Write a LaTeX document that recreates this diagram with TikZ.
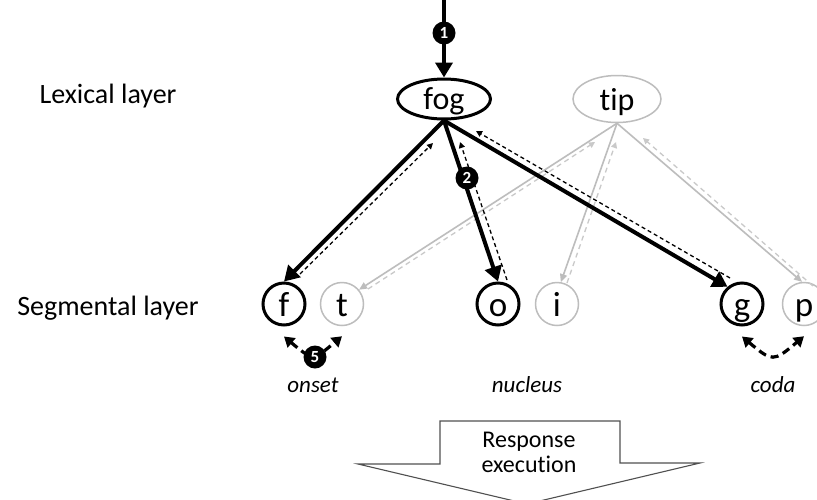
\documentclass[tikz,border=0pt]{standalone}
\usepackage{fontspec}
\setmainfont{Carlito}[Ligatures={NoCommon}]
\usetikzlibrary{arrows.meta,shapes.geometric,calc}
\definecolor{inkgrey}{HTML}{BDBDBD}
\definecolor{palegrey}{HTML}{C9C9C9}
\definecolor{boxline}{HTML}{505050}
\begin{document}
\begin{tikzpicture}[x=1pt,y=1pt,
  lex/.style={ellipse, draw, line width=3pt, minimum width=93pt, minimum height=40pt,
    inner sep=0pt, text height=21pt, text depth=0pt, font=\fontsize{32}{32}\selectfont},
  lexoff/.style={lex, draw=inkgrey, line width=1.5pt, minimum width=88pt, minimum height=47pt, text height=22pt},
  seg/.style={circle, draw, line width=3pt, minimum size=42pt, inner sep=0pt,
    text height=24pt, text depth=0pt, font=\fontsize{35}{35}\selectfont},
  segoff/.style={seg, draw=inkgrey, line width=1.5pt, minimum size=43pt},
  badge/.style={circle, fill=black, minimum size=23pt, inner sep=0pt, text=white,
    font=\fontsize{17}{17}\selectfont\bfseries},
  layer/.style={anchor=base, font=\fontsize{28}{28}\selectfont},
  role/.style={anchor=base, font=\fontsize{23}{23}\selectfont\itshape},
  caption/.style={anchor=base, font=\fontsize{24}{24}\selectfont},
  fwd/.style={line width=4pt, -{Triangle[length=15pt,width=17pt]}},
  ret/.style={line width=1.3pt, dash pattern=on 4pt off 3pt, -{Triangle[length=6pt,width=6pt]}},
  fwdoff/.style={draw=inkgrey, line width=1.6pt, -{Triangle[length=8pt,width=7pt]}},
  retoff/.style={draw=palegrey, line width=1.3pt, dash pattern=on 5pt off 4pt, -{Triangle[length=6pt,width=6pt]}},
  exchange/.style={line width=3.2pt, dash pattern=on 8pt off 5pt,
    {Triangle[length=10pt,width=12pt]}-{Triangle[length=10pt,width=12pt]}}
]
\fill[white] (0,0) rectangle (817,-499);
\useasboundingbox (0,0) rectangle (817,-499);

% layer labels
\node[layer] (lexlabel) at (108,-103) {Lexical layer};
\node[layer] (seglabel) at (108,-315) {Segmental layer};

% lexical nodes
\node[lex] (fog) at (444,-99) {fog};
\node[lexoff] (tip) at (617,-99) {tip};

% segment nodes
\node[seg] (f) at (284,-304) {f};
\node[segoff] (t) at (342,-304) {t};
\node[seg] (o) at (498,-304) {o};
\node[segoff] (i) at (557,-304) {i};
\node[seg] (g) at (742,-304) {g};
\node[segoff] (p) at (804,-304) {p};

% syllable position labels
\node[role] (onset) at (313,-392) {onset};
\node[role] (nucleus) at (527,-392) {nucleus};
\node[role] (coda) at (773,-392) {coda};

% input to the lexical layer
\coordinate (entry) at (444,2);
\draw[fwd] (entry) -- (fog.north);

% activation of the non-target word
\draw[fwdoff] (tip.south) -- (t.40);
\draw[fwdoff] (tip.south) -- (i.80);
\draw[fwdoff] (tip.south) -- (p.95);
\draw[retoff] ([shift={(26,15)}]t.center) -- ([shift={(-22,-43)}]tip.center);
\draw[retoff] ([shift={(10,21)}]i.center) -- ([shift={(-1,-43)}]tip.center);
\draw[retoff] ([shift={(9,18)}]p.center) -- ([shift={(26,-39)}]tip.center);

% activation of the target word
\draw[fwd] (fog.south) -- (f.north);
\draw[fwd] (fog.south) -- (o.north);
\draw[fwd] (fog.south) -- (g.130);
\draw[ret] ([shift={(16,30)}]f.center) -- ([shift={(-11,-44)}]fog.center);
\draw[ret] ([shift={(9,24)}]o.center) -- ([shift={(16,-43)}]fog.center);
\draw[ret] ([shift={(-12,26)}]g.center) -- ([shift={(32,-32)}]fog.center);

% competition between segments
\draw[exchange] ([yshift=-10pt]f.south) .. controls +(-40:38) and +(-140:38) .. ([yshift=-10pt]t.south);
\draw[exchange] ([yshift=-10pt]g.south) .. controls +(-40:40) and +(-140:40) .. ([yshift=-10pt]p.south);

% step markers
\node[badge] (b1) at (444,-33) {1};
\node[badge] (b2) at (467,-178) {2};
\node[badge] (b5) at (315,-357) {5};

% response execution block arrow
\draw[boxline, line width=1.1pt, fill=white]
  (440,-421) -- (620,-421) -- (620,-463) -- (700,-463) -- (527,-504)
  -- (358,-464) -- (440,-464) -- cycle;
\node[caption] (resp1) at (529,-447) {Response};
\node[caption] (resp2) at (529,-472) {execution};
\end{tikzpicture}
\end{document}
